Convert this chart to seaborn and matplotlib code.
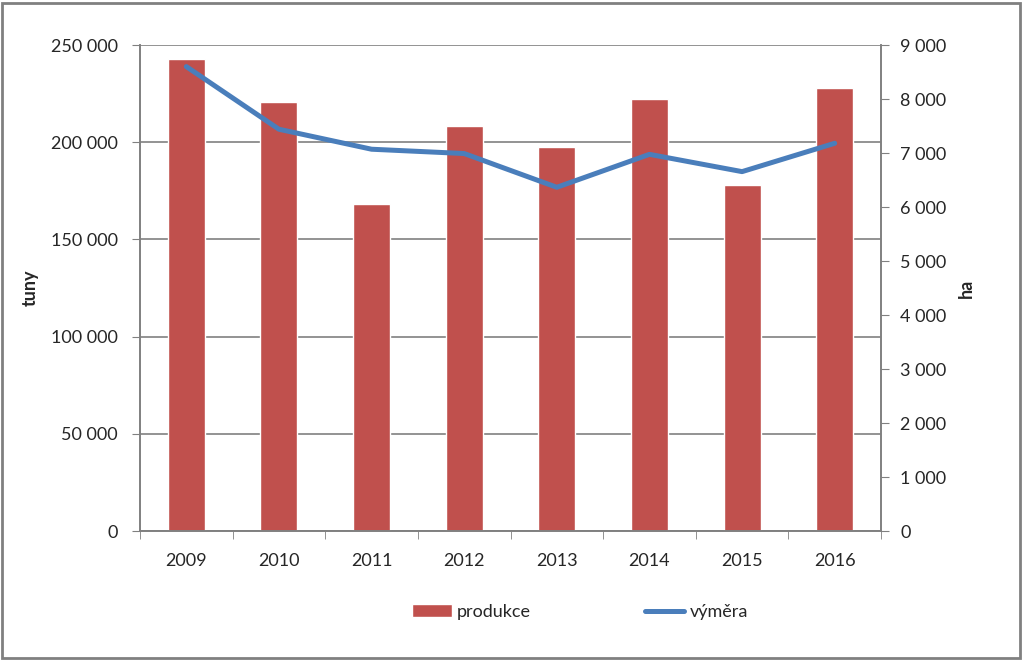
import matplotlib
matplotlib.use("Agg")
import matplotlib.pyplot as plt
import matplotlib.ticker as mticker
import seaborn as sns
import pandas as pd
from matplotlib.patches import Rectangle

years = ["2009", "2010", "2011", "2012", "2013", "2014", "2015", "2016"]
produkce = [242600, 220800, 168200, 208300, 197700, 222000, 178100, 228000]   # tuny
vymera = [8600, 7440, 7070, 6990, 6365, 6975, 6655, 7180]                    # ha

df = pd.DataFrame({"rok": years, "produkce": produkce, "vymera": vymera})

sns.set_style("white")
plt.rcParams["font.family"] = ["Lato", "DejaVu Sans"]
grey = "#808080"

fig = plt.figure(figsize=(10.23, 6.6), dpi=100)
ax = fig.add_axes([140 / 1023, 1 - 531 / 660, 741 / 1023, 486 / 660])

sns.barplot(data=df, x="rok", y="produkce", color="#C0504D", saturation=1,
            width=0.4, ax=ax, label="produkce", legend=False)
ax.set_xlim(-0.5, len(years) - 0.5)
ax.set_ylim(0, 250000)
ax.yaxis.set_major_locator(mticker.MultipleLocator(50000))
space_fmt = mticker.FuncFormatter(lambda v, p: f"{v:,.0f}".replace(",", " "))
ax.yaxis.set_major_formatter(space_fmt)
ax.grid(axis="y", color=grey, linewidth=1.2)
ax.set_axisbelow(True)
ax.set_xlabel("")
ax.set_ylabel("tuny", fontsize=13, fontweight="bold", labelpad=9)
ax.tick_params(axis="y", left=True, length=6, color=grey, labelsize=13, pad=10)
ax.tick_params(axis="x", which="major", bottom=False, labelsize=13, pad=12)
ax.set_xticks([i + 0.5 for i in range(-1, len(years))], minor=True)
ax.tick_params(axis="x", which="minor", bottom=True, length=6, color=grey)

ax2 = ax.twinx()
sns.lineplot(data=df, x="rok", y="vymera", color="#4A7EBB", linewidth=3.6,
             ax=ax2, label="výměra", legend=False)
ax2.set_ylim(0, 9000)
ax2.yaxis.set_major_locator(mticker.MultipleLocator(1000))
ax2.yaxis.set_major_formatter(space_fmt)
ax2.set_ylabel("ha", fontsize=13, fontweight="bold", labelpad=8)
ax2.tick_params(axis="y", right=True, length=6, color=grey, labelsize=13, pad=8)
ax2.set_xlim(-0.5, len(years) - 0.5)

for a in (ax, ax2):
    a.spines["top"].set_visible(False)
    for side in ("left", "right", "bottom"):
        a.spines[side].set_color(grey)
        a.spines[side].set_linewidth(1.2)

h1, l1 = ax.get_legend_handles_labels()
h2, l2 = ax2.get_legend_handles_labels()
fig.legend(h1 + h2, l1 + l2, loc="center", bbox_to_anchor=(0.567, 1 - 612 / 660),
           ncol=2, frameon=False, fontsize=13, columnspacing=6.3,
           handlelength=2.2, handletextpad=0.3)

fig.patches.append(Rectangle((0.002, 0.003), 0.995, 0.993, transform=fig.transFigure,
                             fill=False, edgecolor=grey, linewidth=2))

fig.savefig("out.png", dpi=100)
